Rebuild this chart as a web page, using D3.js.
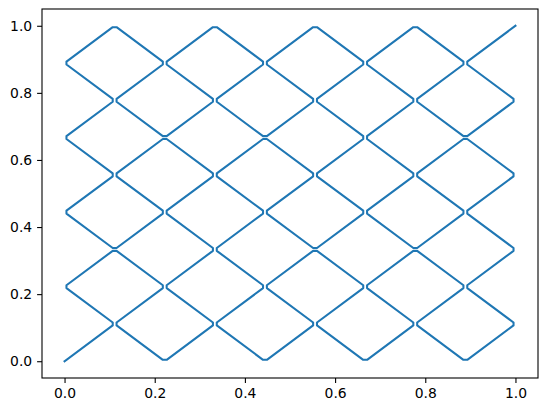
<!DOCTYPE html>
<html>
<head>
<meta charset="utf-8">
<script src="https://cdn.jsdelivr.net/npm/d3@7"></script>
<style>
  body { margin: 0; background: white; }
  svg { display: block; }
</style>
</head>
<body>
<script>
const width = 547;
const height = 413;

// lattice size: curve vertices sit on multiples of 1/gridN
const gridN = 9;

// vertex column / row index of the curve, in drawing order (one 3x3 block per line)
const colIdx = [
  0,1,0,1,2,1,2,3,2,3,
  2,3,2,1,2,1,0,1,0,
  1,0,1,2,1,2,3,2,3,
  4,3,4,5,4,5,6,5,6,
  5,6,5,4,5,4,3,4,3,
  4,3,4,5,4,5,6,5,6,
  7,6,7,8,7,8,9,8,9,
  8,9,8,7,8,7,6,7,6,
  7,6,7,8,7,8,9,8,9
];
const rowIdx = [
  0,1,2,3,2,1,0,1,2,3,
  4,5,6,5,4,3,4,5,6,
  7,8,9,8,7,6,7,8,9,
  8,7,6,7,8,9,8,7,6,
  5,4,3,4,5,6,5,4,3,
  2,1,0,1,2,3,2,1,0,
  1,2,3,2,1,0,1,2,3,
  4,5,6,5,4,3,4,5,6,
  7,8,9,8,7,6,7,8,9
];

const xTicks = [0, 0.2, 0.4, 0.6, 0.8, 1.0];
const yTicks = [0, 0.2, 0.4, 0.6, 0.8, 1.0];

const margin = {left: 42, right: 9, top: 9, bottom: 35};
const plotW = width - margin.left - margin.right;
const plotH = height - margin.top - margin.bottom;

const svg = d3.select("body").append("svg")
    .attr("width", width)
    .attr("height", height);

const x = d3.scaleLinear().domain([-0.05, 1.05]).range([margin.left, margin.left + plotW]);
const y = d3.scaleLinear().domain([-0.05, 1.05]).range([margin.top + plotH, margin.top]);

const points = colIdx.map((c, i) => [x(c / gridN), y(rowIdx[i] / gridN)]);

// slightly clipped corners so touching vertices read as separate turns
function clippedPath(pts, cut) {
  const p = d3.path();
  p.moveTo(pts[0][0], pts[0][1]);
  for (let i = 1; i < pts.length - 1; i++) {
    const [px, py] = pts[i - 1];
    const [cx, cy] = pts[i];
    const [nx, ny] = pts[i + 1];
    const l1 = Math.hypot(cx - px, cy - py);
    const l2 = Math.hypot(nx - cx, ny - cy);
    p.lineTo(cx - (cx - px) / l1 * cut, cy - (cy - py) / l1 * cut);
    p.lineTo(cx + (nx - cx) / l2 * cut, cy + (ny - cy) / l2 * cut);
  }
  const last = pts[pts.length - 1];
  p.lineTo(last[0], last[1]);
  return p.toString();
}

svg.append("path")
    .attr("d", clippedPath(points, 2.4))
    .attr("fill", "none")
    .attr("stroke", "#1f77b4")
    .attr("stroke-width", 2.08)
    .attr("stroke-linejoin", "round")
    .attr("stroke-linecap", "square");

const fmt = d3.format(".1f");

const xAxis = svg.append("g")
    .attr("transform", `translate(0,${margin.top + plotH})`)
    .call(d3.axisBottom(x).tickValues(xTicks).tickFormat(fmt).tickSize(4.9).tickPadding(4.9).tickSizeOuter(0));

const yAxis = svg.append("g")
    .attr("transform", `translate(${margin.left},0)`)
    .call(d3.axisLeft(y).tickValues(yTicks).tickFormat(fmt).tickSize(4.9).tickPadding(4.9).tickSizeOuter(0));

for (const ax of [xAxis, yAxis]) {
  ax.select(".domain").remove();
  ax.selectAll(".tick line").attr("stroke", "black").attr("stroke-width", 1.1);
  ax.selectAll(".tick text")
      .attr("fill", "black")
      .style("font-family", "'DejaVu Sans', sans-serif")
      .style("font-size", "13.9px");
}
xAxis.selectAll(".tick text").attr("dy", "0.75em");

svg.append("rect")
    .attr("x", margin.left)
    .attr("y", margin.top)
    .attr("width", plotW)
    .attr("height", plotH)
    .attr("fill", "none")
    .attr("stroke", "black")
    .attr("stroke-width", 1.1);
</script>
</body>
</html>
